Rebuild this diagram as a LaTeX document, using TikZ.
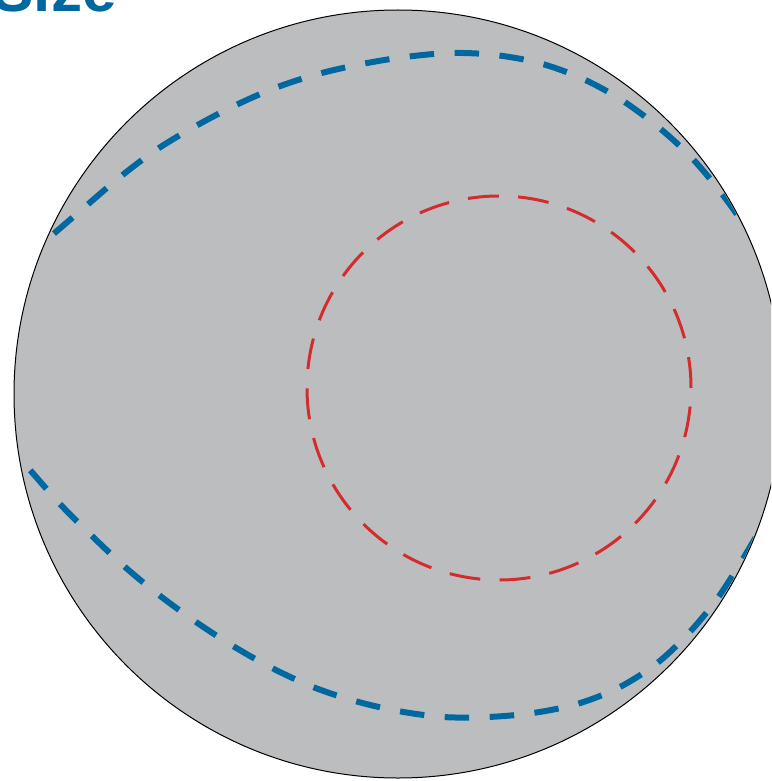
\documentclass[tikz,border=0pt]{standalone}
\usepackage{fontspec}
\setmainfont{Liberation Sans}
\definecolor{diskgray}{RGB}{188,189,191}
\definecolor{sizeblue}{RGB}{0,104,160}
\definecolor{ringred}{RGB}{212,44,44}
\tikzset{
  bluecurve/.style={draw=sizeblue, line width=6pt, dash pattern=on 24.5pt off 20.5pt},
  reddash/.style={draw=ringred, line width=3pt, dash pattern=on 31pt off 19.3pt},
  disk/.style={fill=diskgray, draw=black, line width=1pt}
}
\begin{document}
\begin{tikzpicture}[x=1pt,y=-1pt]
\useasboundingbox (0,0) rectangle (771,781);
\clip (0,0) rectangle (771,781);
\coordinate (C) at (398,394);
\path[disk] (C) circle[radius=384pt];
\begin{scope}
  \clip (C) circle[radius=383pt];
  \draw[bluecurve] plot[smooth, tension=0.55] coordinates {
    (20,263) (43,243) (86,206) (120,177) (156,150) (194,127) (234,106)
    (275,88) (318,74) (362,64) (405,57) (451,53) (495,55) (539,63)
    (581,78) (620,99) (657,126) (690,156) (719,190) (743,223) (765,256)};
  \draw[bluecurve] plot[smooth, tension=0.55] coordinates {
    (0,437) (23,462) (60,504) (92,536) (125,567) (159,595) (196,622)
    (233,646) (272,668) (313,687) (355,701) (398,711) (443,717) (488,717)
    (533,713) (577,704) (618,688) (656,664) (688,634) (717,599) (741,562) (760,530)};
\end{scope}
\coordinate (R) at (499,388);
\path[reddash] (R) circle[radius=192pt];
\node[anchor=base west, inner sep=0pt, font=\fontsize{62}{62}\selectfont\bfseries, text=sizeblue] (title) at (-7.7,12) {Size};
\end{tikzpicture}
\end{document}
